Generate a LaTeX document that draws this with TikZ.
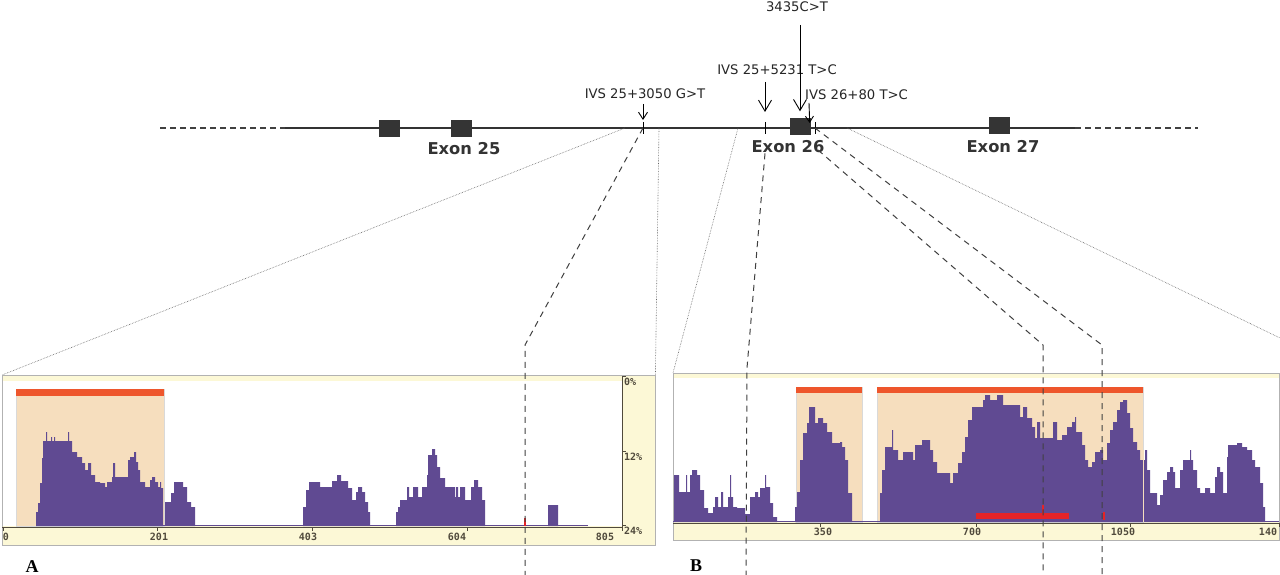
\documentclass[tikz,border=0pt]{standalone}
\usepackage{fontspec}
\setmainfont{DejaVu Sans}
\newfontfamily\axisfont{DejaVu Sans Mono}
\newfontfamily\panelfont{Liberation Serif}
\usetikzlibrary{arrows.meta}
\definecolor{cream}{RGB}{252,248,214}
\definecolor{tanfill}{RGB}{246,222,190}
\definecolor{barorange}{RGB}{238,86,44}
\definecolor{barred}{RGB}{228,36,40}
\definecolor{histpurple}{RGB}{96,74,146}
\definecolor{exongray}{RGB}{52,52,52}
\definecolor{axisbrown}{RGB}{80,74,60}

\begin{document}
\begin{tikzpicture}[x=1pt, y=-1pt, >={Straight Barb[length=11pt,width=13pt]},
  exon/.style={fill=exongray, minimum width=21pt, minimum height=17pt, inner sep=0pt},
  exonlab/.style={font=\fontsize{16.3}{19}\selectfont\bfseries, text=black!80, inner sep=0pt},
  mutlab/.style={font=\fontsize{13.2}{15}\selectfont, text=black!85, inner sep=0pt},
  axlab/.style={font=\axisfont\bfseries\fontsize{10}{12}\selectfont, text=axisbrown, inner sep=0pt},
  panel/.style={draw=black!30, line width=0.4pt, fill=cream, inner sep=0pt, anchor=north west},
  guide/.style={densely dotted, black!60, line width=0.6pt},
  zoomline/.style={dash pattern=on 6pt off 5pt, line width=1pt, black!75},
  histo/.style={fill=histpurple}]
  \useasboundingbox[fill=white] (0,0) rectangle (1280,575);

  % bottom left: panel A
  \node[panel, minimum width=653pt, minimum height=170pt] (pA) at (2,375) {};
  \fill[white] (3,381) rectangle (622,526);
  \fill[tanfill, draw=black!15, line width=0.4pt] (16,389) rectangle (164,526);
  \fill[barorange] (16,389) rectangle (164,396);
  \draw[histpurple, line width=1pt] (36,525.5) -- (588,525.5);
  \fill[histo] plot[const plot] coordinates {(36,526) (36,512) (38,503) (40,483) (42,458) (43,441) (46,432) (47,441) (51,437) (52,441) (54,437) (55,441) (60,441) (68,432) (69,441) (72,452) (77,457) (82,463) (85,470) (88,463) (91,475) (95,482) (100,483) (105,487) (107,482) (112,477) (113,463) (115,477) (128,460) (130,457) (134,452) (136,462) (138,470) (140,482) (145,487) (150,480) (152,477) (155,482) (158,487) (160,482) (161,488) (163,526)} -- cycle;
  \fill[histo] plot[const plot] coordinates {(165,526) (165,502) (171,493) (174,482) (183,487) (187,502) (191,507) (195,526)} -- cycle;
  \fill[histo] plot[const plot] coordinates {(303,526) (303,507) (306,490) (309,482) (320,487) (332,481) (337,475) (341,481) (348,488) (352,500) (356,492) (358,487) (362,492) (365,502) (368,512) (370,526)} -- cycle;
  \fill[histo] plot[const plot] coordinates {(396,526) (396,512) (398,507) (400,500) (407,487) (409,497) (413,487) (418,497) (422,487) (427,475) (428,455) (432,449) (435,455) (437,467) (440,478) (445,487) (455,497) (456,487) (458,497) (460,487) (465,500) (471,487) (474,480) (478,487) (482,500) (485,526)} -- cycle;
  \fill[histo] plot[const plot] coordinates {(548,526) (548,505) (558,526)} -- cycle;
  \draw[barred, line width=2pt] (525,518) -- (525,526);
  \draw[axisbrown, line width=0.6pt] (2,527) -- (622,527) (622,376) -- (622,527);
  \foreach \tx/\lx/\t in {3/6/0, 157/159/201, 312/308/403, 467/457/604, 622/605/805} {
    \draw[axisbrown, line width=0.6pt] (\tx,527) -- (\tx,531);
    \node[axlab] (ta\t) at (\lx,537) {\t};
  }
  \foreach \y/\t in {376/0, 451/12, 525/24} {
    \draw[axisbrown, line width=0.6pt] (622,\y) -- (626,\y);
    \node[axlab, anchor=west] (pct\t) at (624,\y+6) {\t\%};
  }
  \node[font=\panelfont\bfseries\fontsize{18}{20}\selectfont] (labA) at (32,567) {A};

  % bottom right: panel B
  \node[panel, minimum width=606pt, minimum height=167pt] (pB) at (673,373) {};
  \fill[white] (674,378) rectangle (1279,522);
  \fill[tanfill, draw=black!15, line width=0.4pt] (796,387) rectangle (862,522);
  \fill[tanfill, draw=black!15, line width=0.4pt] (877,387) rectangle (1143,522);
  \fill[barorange] (796,387) rectangle (862,393);
  \fill[barorange] (877,387) rectangle (1143,393);
  \draw[histpurple, line width=1pt] (673,521.5) -- (1279,521.5);
  \fill[histo] plot[const plot] coordinates {(674,522) (674,475) (679,492) (686,475) (687,492) (690,475) (692,470) (697,475) (700,490) (704,508) (708,513) (713,507) (715,497) (718,507) (721,492) (723,507) (728,497) (730,475) (731,497) (733,507) (737,508) (745,514) (750,497) (755,492) (758,497) (760,488) (765,475) (766,487) (770,503) (773,517) (777,522)} -- cycle;
  \fill[histo] plot[const plot] coordinates {(795,522) (795,507) (797,492) (800,460) (803,433) (807,423) (809,407) (815,423) (818,418) (823,423) (827,432) (832,443) (840,442) (842,447) (845,460) (848,493) (852,522)} -- cycle;
  \fill[histo] plot[const plot] coordinates {(880,522) (880,493) (882,470) (885,447) (892,430) (893,450) (898,460) (903,452) (908,452) (913,460) (915,445) (922,440) (930,450) (933,462) (937,473) (950,483) (953,473) (958,463) (962,452) (965,437) (968,420) (972,407) (983,400) (985,395) (990,400) (997,395) (1003,405) (1020,417) (1023,407) (1027,418) (1032,427) (1035,438) (1037,422) (1040,438) (1053,422) (1057,440) (1062,435) (1067,427) (1072,422) (1075,417) (1076,432) (1082,445) (1085,460) (1088,467) (1092,462) (1095,452) (1100,450) (1103,460) (1107,443) (1110,430) (1113,422) (1117,410) (1120,402) (1123,400) (1127,413) (1130,428) (1133,442) (1137,450) (1140,460) (1145,450) (1147,470) (1150,493) (1157,505) (1160,495) (1163,480) (1167,472) (1170,467) (1173,472) (1175,488) (1180,470) (1183,460) (1190,450) (1191,460) (1193,470) (1197,488) (1200,493) (1205,488) (1210,493) (1215,477) (1217,467) (1220,472) (1223,493) (1227,457) (1228,445) (1237,443) (1242,447) (1247,450) (1252,460) (1255,467) (1260,483) (1263,507) (1265,522)} -- cycle;
  \draw[tanfill, line width=0.6pt] (1143,450) -- (1143,522);
  \fill[barred] (976,513) rectangle (1069,519);
  \draw[barred, line width=1.5pt] (1043,505) -- (1043,513) (1104,512) -- (1104,520);
  \draw[axisbrown, line width=0.6pt] (673,523) -- (1279,523);
  \foreach \tx/\lx/\t in {820/823/350, 976/972/700, 1130/1123/1050, 1279/1268/140} {
    \draw[axisbrown, line width=0.6pt] (\tx,523) -- (\tx,527);
    \node[axlab] (tb\t) at (\lx,532) {\t};
  }
  \node[font=\panelfont\bfseries\fontsize{18}{20}\selectfont] (labB) at (696,566) {B};

  % top: gene line with exons
  \coordinate (gl0) at (160,128);
  \coordinate (gl1) at (285,128);
  \coordinate (gl2) at (1075,128);
  \coordinate (gl3) at (1198,128);
  \draw[line width=1.1pt, black!75, dash pattern=on 6pt off 4pt] (gl0) -- (gl1) (gl2) -- (gl3);
  \draw[line width=1.1pt, black!80] (gl1) -- (gl2);
  \node[exon] (e24) at (389,129) {};
  \node[exon] (e25) at (461,129) {};
  \node[exon] (e26) at (800,127) {};
  \node[exon] (e27) at (999,126) {};
  \node[exonlab] (lab25) at (464,149) {Exon 25};
  \node[exonlab] (lab26) at (788,147) {Exon 26};
  \node[exonlab] (lab27) at (1003,147) {Exon 27};
  \coordinate (t3050) at (643,128);
  \coordinate (t5231) at (765,128);
  \coordinate (t80) at (815,128);
  \foreach \c in {t3050, t5231, t80} \draw[line width=0.9pt] ([yshift=6pt]\c) -- ([yshift=-6pt]\c);

  % mutations
  \node[mutlab] (m3435) at (797,7) {3435C>T};
  \node[mutlab] (m5231) at (777,70) {IVS 25+5231 T>C};
  \node[mutlab] (m3050) at (645,94) {IVS 25+3050 G>T};
  \node[mutlab, anchor=west] (m80) at (805,95) {IVS 26+80 T>C};
  \coordinate (s3435) at (800,25);
  \coordinate (s5231) at (765,82);
  \coordinate (s3050) at (643,104);
  \coordinate (s80) at (809,103);
  \draw[->, line width=0.9pt] (s3435) -- (e26.north) [shorten >=7pt];
  \draw[->, line width=0.9pt] (s5231) -- ([yshift=16pt]t5231);
  \draw[-{Straight Barb[length=7pt,width=9pt]}, line width=0.9pt] (s3050) -- ([yshift=8pt]t3050);
  \draw[-{Straight Barb[length=6pt,width=8pt]}, line width=0.9pt] (s80) -- ([xshift=-1pt,yshift=4pt]e26.east);

  % zoom lines down to the panels
  \coordinate (gA1) at (625,128);
  \coordinate (gA2) at (659,128);
  \coordinate (gB1) at (738,128);
  \coordinate (gB2) at (847,128);
  \coordinate (gB3) at (1280,338);
  \draw[guide] (gA1) -- (pA.north west);
  \draw[guide] (gA2) -- (pA.north east);
  \draw[guide] (gB1) -- (pB.north west);
  \draw[guide] (gB2) -- (gB3);
  \coordinate (s80b) at (818,150);
  \coordinate (endA) at (525,575);
  \coordinate (endB1) at (746,575);
  \coordinate (endB2) at (1043,575);
  \coordinate (endB3) at (1102,575);
  \draw[zoomline] (t3050) -- (525,345) -- (endA);
  \draw[zoomline] (lab26.south -| t5231) -- (747,368) -- (endB1);
  \draw[zoomline] (s80b) -- (1043,345) -- (endB2);
  \draw[zoomline] (t80) -- (1102,345) -- (endB3);
\end{tikzpicture}
\end{document}
